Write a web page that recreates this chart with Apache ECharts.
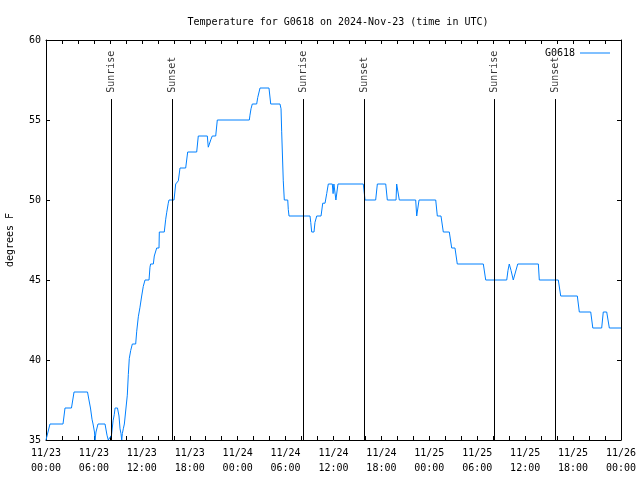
<!DOCTYPE html>
<html>
<head>
<meta charset="utf-8">
<script src="https://cdn.jsdelivr.net/npm/echarts@6/dist/echarts.min.js"></script>
<style>html,body{margin:0;padding:0;background:#fff}#c{width:640px;height:480px}</style>
</head>
<body>
<div id="c"></div>
<script>
// hours since 2024-11-23 00:00 UTC
const hours = [0,0.25,0.5,2.13,2.38,3.19,3.51,5.2,5.38,5.57,5.76,5.89,6.07,6.14,6.26,6.51,7.39,7.64,7.8,8.01,
  8.2,8.4,8.55,8.65,8.95,9.14,9.27,9.39,9.48,9.56,9.68,9.81,10.02,10.18,10.31,10.43,10.61,10.81,11.23,11.36,
  11.56,11.77,11.98,12.18,12.4,12.9,13.02,13.1,13.44,13.56,13.86,14.15,14.19,14.81,14.99,15.11,15.31,15.4,16.03,16.24,
  16.49,16.57,16.78,17.49,17.74,18.87,19.07,20.2,20.32,20.5,20.66,20.82,21.25,21.45,25.46,25.54,25.67,25.83,26.38,26.51,
  26.8,27.92,28.14,29.3,29.43,29.51,29.71,29.84,30.27,30.34,30.43,33.06,33.15,33.27,33.56,33.68,33.9,34.44,34.65,34.94,
  35.15,35.35,35.85,35.95,36.05,36.2,36.3,36.45,36.56,39.73,39.95,41.28,41.49,42.54,42.74,43.83,43.91,44.04,44.24,46.29,
  46.42,46.54,46.71,48.8,49.0,49.46,49.75,50.5,50.8,51.21,51.5,54.76,55.06,57.69,57.85,58.01,58.1,58.23,58.51,58.73,
  59.07,61.65,61.77,64.15,64.45,66.53,66.78,68.21,68.47,69.58,69.78,70.21,70.54,72];
const temps = [35,35.5,36,36,37,37,38,38,37.5,37,36.3,36,35.5,35,35.5,36,36,35.3,35,35,
  35.3,36.2,36.6,37,37,36.5,35.7,35.4,35,35.4,35.7,36,36,37.8,39.1,40.1,40.6,41,41,41.8,
  42.7,43.3,44,44.6,45,45,45.8,46,46,46.5,47,47,48,48,48.8,49.2,49.8,50,50,51,
  51,51.2,52,52,53,53,54,54,53.3,53.2,53.8,54,54,55,55,55.3,55.7,56,56,56.4,
  57,57,56,56,55.7,54.3,51.2,50,50,49.4,49,49,48.6,48,48,48.6,49,49,49.8,49.8,
  50.4,51,51,50.4,51,51,50,50,51,51,50,50,51,51,50,50,51,51,50,50,
  49,49,50,50,49,49,48,48,47,47,46,46,45,45,45.6,46,46,45.6,45,45,
  46,46,45,45,44,44,43,43,42,42,43,43,42,42];
const sunHours = [8.14, 15.82, 32.22, 39.86, 56.14, 63.82];
const sunNames = ['Sunrise','Sunset','Sunrise','Sunset','Sunrise','Sunset'];
const xTickLabels = ['11/23\n00:00','11/23\n06:00','11/23\n12:00','11/23\n18:00','11/24\n00:00','11/24\n06:00',
  '11/24\n12:00','11/24\n18:00','11/25\n00:00','11/25\n06:00','11/25\n12:00','11/25\n18:00','11/26\n00:00'];
const yTicks = [35,40,45,50,55,60];

const FONT = 'DejaVu Sans Mono';
const chart = echarts.init(document.getElementById('c'), null, {renderer:'canvas'});
const axisCommon = {
  axisLine:{show:true,onZero:false,lineStyle:{color:'#000',width:1}},
  axisTick:{show:true,inside:true,length:4,lineStyle:{color:'#000'}},
  splitLine:{show:false}
};
chart.setOption({
  animation:false,
  backgroundColor:'#fff',
  title:{text:'Temperature for G0618 on 2024-Nov-23 (time in UTC)',left:333,top:12,textAlign:'center',
    textStyle:{fontFamily:FONT,fontSize:10,fontWeight:'normal',color:'#000'}},
  legend:{data:['G0618'],right:25,top:43,align:'right',icon:'rect',itemWidth:30,itemHeight:1,
    textStyle:{fontFamily:FONT,fontSize:10,color:'#000'}},
  grid:{left:46,right:19,top:40,bottom:40,containLabel:false,outerBoundsMode:'none'},
  xAxis:[
    Object.assign({type:'value',min:0,max:72,interval:2,position:'bottom',
      axisLabel:{fontFamily:FONT,fontSize:10,color:'#000',lineHeight:15,margin:6,
        formatter:v=>(v%6===0?xTickLabels[v/6]:'')}},axisCommon),
    Object.assign({type:'value',min:0,max:72,interval:2,position:'top',axisLabel:{show:false}},axisCommon)
  ],
  yAxis:[
    Object.assign({type:'value',min:35,max:60,interval:5,position:'left',
      name:'degrees F',nameLocation:'middle',nameRotate:90,nameGap:31,
      nameTextStyle:{fontFamily:FONT,fontSize:10,color:'#000'},
      axisLabel:{fontFamily:FONT,fontSize:10,color:'#000',margin:5,
        formatter:v=>(yTicks.indexOf(v)>=0?String(v):'')}},axisCommon),
    Object.assign({type:'value',min:35,max:60,interval:5,position:'right',axisLabel:{show:false}},axisCommon)
  ],
  series:[
    {name:'G0618',type:'line',xAxisIndex:0,yAxisIndex:0,showSymbol:false,symbol:'none',
      lineStyle:{color:'#0080ff',width:1},itemStyle:{color:'#0080ff'},
      data:hours.map((h,i)=>[h,temps[i]]),
      markLine:{silent:true,symbol:['none','none'],label:{show:false},
        lineStyle:{color:'#000',width:1,type:'solid'},
        data:sunHours.map(h=>[{coord:[h,35]},{coord:[h,56.31]}])}},
    {name:'sun',type:'scatter',xAxisIndex:0,yAxisIndex:0,symbolSize:1,silent:true,
      itemStyle:{color:'rgba(0,0,0,0)'},
      label:{show:true,position:'inside',rotate:90,align:'left',verticalAlign:'middle',
        fontFamily:FONT,fontSize:10,color:'#000',formatter:p=>p.data[2]},
      data:sunHours.map((h,i)=>[h,56.7,sunNames[i]])}
  ]
});
</script>
</body>
</html>
